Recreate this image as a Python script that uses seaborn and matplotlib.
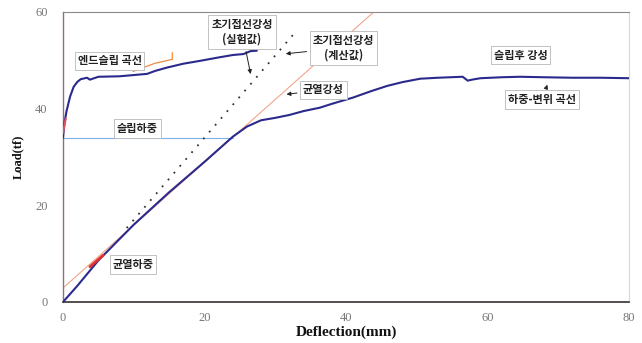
import numpy as np
import pandas as pd
import matplotlib
matplotlib.use("Agg")
import matplotlib.pyplot as plt
import seaborn as sns

# Load–deflection curve (mid-span deflection)
defl_main = [0, 2, 5, 10, 15, 20, 24, 26, 28, 30, 32, 34, 36.3, 38, 41, 43.5,
             45.8, 48, 50.5, 53, 56.5, 57.2, 57.8, 59, 62, 64.6, 68, 72, 76, 80]
load_main = [0, 3.3, 8.6, 16.0, 22.7, 29.0, 34.2, 36.3, 37.6, 38.1, 38.7, 39.5,
             40.2, 41.0, 42.3, 43.6, 44.7, 45.5, 46.2, 46.4, 46.6, 45.8, 46.0,
             46.3, 46.5, 46.6, 46.5, 46.4, 46.4, 46.3]

# End-slip curve
slip_defl = [0, 0.2, 0.5, 1.0, 1.5, 2.0, 2.5, 3.4, 3.8, 5, 8, 11.9, 13, 14.7,
             17, 19.4, 22, 24, 25.5, 26.5, 27.4]
slip_load = [34.0, 37.0, 39.5, 42.5, 44.5, 45.5, 46.1, 46.4, 46.0, 46.6, 46.7,
             47.2, 47.8, 48.5, 49.3, 49.9, 50.6, 51.1, 51.3, 51.9, 52.0]

slip_load_level = 34.0          # slip load (tf)
slip_load_end = 24.0            # where the slip-load line meets the curve

# Initial tangent stiffness lines (tf/mm)
k_calc = 1.7                    # calculated
k_crack, k_crack_y0 = 1.3, 2.9  # cracked stiffness line
dot_x = [9.0, 33.0]
crack_x = [0.0, 43.9]

# Cracking load segment on the curve
crack_seg_x = [3.8, 5.7]
crack_seg_y = [7.3, 9.7]

# Leader drawn from the end-slip label
lead_x = [9.9, 13.0, 15.45, 15.45]
lead_y = [47.7, 49.4, 50.2, 51.6]

x_ticks = [0, 20, 40, 60, 80]
y_ticks = [0, 20, 40, 60]

sns.set_theme(style="white")
plt.rcParams["font.family"] = ["Noto Sans CJK KR", "DejaVu Sans"]

fig = plt.figure(figsize=(6.42, 3.43), dpi=100)
ax = fig.add_axes([63 / 642, 1 - 302 / 343, (629 - 63) / 642, (302 - 12) / 343])

navy = "#2b2a8c"
salmon = "#f2a58a"

# reference lines
ax.plot([0, slip_load_end], [slip_load_level] * 2, color="#7fb0e8", lw=0.8, zorder=2)
ax.plot(crack_x, [k_crack_y0 + k_crack * x for x in crack_x], color=salmon, lw=0.8, zorder=1)
ax.plot(dot_x, [k_calc * x for x in dot_x], color="#333333", lw=1.3,
        linestyle=(0, (1, 4)), zorder=2)

df_main = pd.DataFrame({"defl": defl_main, "load": load_main})
df_slip = pd.DataFrame({"defl": slip_defl, "load": slip_load})
sns.lineplot(data=df_main, x="defl", y="load", sort=False, color=navy, lw=1.5,
             ax=ax, zorder=3)
sns.lineplot(data=df_slip, x="defl", y="load", sort=False, color=navy, lw=1.5,
             ax=ax, zorder=3)

ax.plot(crack_seg_x, crack_seg_y, color="#e03030", lw=2.0, zorder=4)
ax.plot([0, 0.4], [35, 38], color="#e05060", lw=1.5, zorder=4)
ax.plot(lead_x, lead_y, color="#f08a40", lw=0.9, zorder=2)

box = dict(boxstyle="square,pad=0.25", fc="white", ec="#b8b8b8", lw=0.6)
tkw = dict(fontsize=8, fontweight="bold", ha="center", va="center",
           color="#222222", bbox=box, zorder=6)
arrow = dict(arrowstyle="-|>", color="#222222", lw=0.7, mutation_scale=6)

ax.annotate("초기접선강성\n(실험값)", xy=(26.6, 46.6), xytext=(25.3, 55.9),
            arrowprops=arrow, linespacing=1.2, **tkw)
ax.annotate("초기접선강성\n(계산값)", xy=(31.1, 51.3), xytext=(39.6, 52.6),
            arrowprops=arrow, linespacing=1.2, **tkw)
ax.annotate("균열강성", xy=(31.2, 42.9), xytext=(36.8, 43.9),
            arrowprops=arrow, **tkw)
ax.annotate("하중-변위 곡선", xy=(68.6, 45.5), xytext=(67.7, 41.9),
            arrowprops=arrow, **tkw)
ax.text(6.6, 49.9, "엔드슬립 곡선", **tkw)
ax.text(10.5, 35.9, "슬립하중", **tkw)
ax.text(64.7, 51.1, "슬립후 강성", **tkw)
ax.text(9.9, 7.8, "균열하중", **tkw)

ax.set_xlim(0, 80)
ax.set_ylim(0, 60)
ax.set_xticks(x_ticks)
ax.set_yticks(y_ticks)
serif = ["Liberation Serif", "DejaVu Serif"]
ax.set_xticklabels([str(v) for v in x_ticks], family=serif, fontsize=9, color="#777777")
ax.set_yticklabels([str(v) for v in y_ticks], family=serif, fontsize=9, color="#777777")
ax.tick_params(axis="x", direction="in", length=4, width=1, pad=7, color="#333333")
ax.tick_params(axis="y", direction="in", length=4, width=1, pad=11, color="#333333")

ax.set_xlabel("Deflection(mm)", family=serif, fontsize=11, fontweight="bold",
              labelpad=1, color="#111111")
ax.set_ylabel("Load(tf)", family=serif, fontsize=9, fontweight="bold",
              labelpad=8, color="#111111")

ax.spines["left"].set_color("#8a7088")
ax.spines["left"].set_linewidth(1.0)
ax.spines["bottom"].set_color("#3a3030")
ax.spines["bottom"].set_linewidth(1.2)
ax.spines["top"].set_color("#8a8a8a")
ax.spines["top"].set_linewidth(0.8)
ax.spines["right"].set_color("#d8d8d8")
ax.spines["right"].set_linewidth(0.8)

fig.savefig("out.png", dpi=100)
